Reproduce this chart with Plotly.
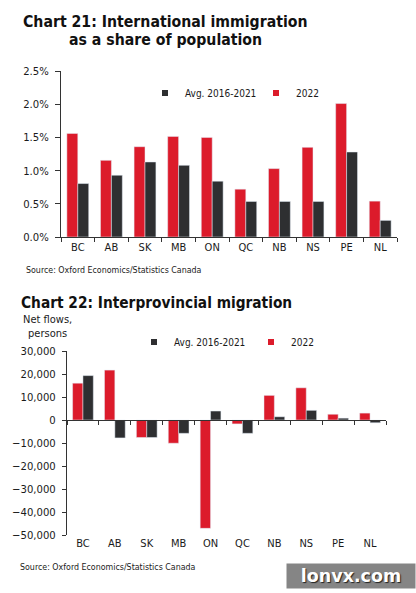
import plotly.graph_objects as go

# ---------------- data ----------------
provinces = ["BC", "AB", "SK", "MB", "ON", "QC", "NB", "NS", "PE", "NL"]
imm_2022 = [1.56, 1.155, 1.36, 1.515, 1.50, 0.72, 1.03, 1.35, 2.01, 0.54]
imm_avg = [0.805, 0.93, 1.13, 1.08, 0.84, 0.535, 0.535, 0.535, 1.28, 0.25]
mig_2022 = [16000, 21700, -7600, -10100, -47100, -1700, 10700, 14000, 2500, 3000]
mig_avg = [19300, -7800, -7600, -5800, 3900, -5800, 1400, 4200, 800, -1200]
name_avg = "Avg. 2016-2021"
name_new = "2022"

# ---------------- style ----------------
W, H = 416, 593
RED = "#dc1b2b"
BLACK = "#2e2f31"
AXIS = "#333333"
TXT = "#1a1a1a"
FONT = "DejaVu Sans Condensed, DejaVu Sans, sans-serif"


def px(x):
    return x / W


def py(y):
    return 1 - y / H


y1_dom = [py(237), py(71)]
y2_dom = [py(535), py(351)]
y2_range = [-50000, 30000]
zero_pos = y2_dom[0] + (0 - y2_range[0]) / (y2_range[1] - y2_range[0]) * (y2_dom[1] - y2_dom[0])

fig = go.Figure()

# chart 21 bars
fig.add_trace(go.Bar(x=provinces, y=imm_2022, marker_color=RED, name=name_new,
                     showlegend=False, xaxis="x", yaxis="y"))
fig.add_trace(go.Bar(x=provinces, y=imm_avg, marker_color=BLACK, name=name_avg,
                     showlegend=False, xaxis="x", yaxis="y"))
# chart 22 bars
fig.add_trace(go.Bar(x=provinces, y=mig_2022, marker_color=RED, name=name_new,
                     showlegend=False, xaxis="x2", yaxis="y2"))
fig.add_trace(go.Bar(x=provinces, y=mig_avg, marker_color=BLACK, name=name_avg,
                     showlegend=False, xaxis="x2", yaxis="y2"))
# zero-line axis carrier for chart 22
fig.add_trace(go.Scatter(x=provinces, y=[None] * len(provinces), mode="markers",
                         showlegend=False, hoverinfo="skip", xaxis="x3", yaxis="y2"))

# legend entries (small square markers)
for leg, xa, ya in [("legend", "x", "y"), ("legend2", "x2", "y2")]:
    fig.add_trace(go.Scatter(x=[None], y=[None], mode="markers", name=name_avg,
                             marker=dict(symbol="square", size=6, color=BLACK),
                             legend=leg, xaxis=xa, yaxis=ya, hoverinfo="skip"))
    fig.add_trace(go.Scatter(x=[None], y=[None], mode="markers", name=name_new,
                             marker=dict(symbol="square", size=6, color=RED),
                             legend=leg, xaxis=xa, yaxis=ya, hoverinfo="skip"))

cat_axis = dict(type="category", categoryorder="array", categoryarray=provinces,
                range=[-0.5, len(provinces) - 0.5], showgrid=False, zeroline=False,
                tickfont=dict(family=FONT, size=11, color=TXT), fixedrange=True)

legend_common = dict(orientation="h", xanchor="left", yanchor="middle",
                     bgcolor="rgba(0,0,0,0)", font=dict(family=FONT, size=10, color=TXT),
                     itemclick=False, itemdoubleclick=False, entrywidthmode="pixels")

fig.update_layout(
    width=W, height=H,
    margin=dict(l=0, r=0, t=0, b=0),
    paper_bgcolor="white", plot_bgcolor="white",
    barmode="group", bargap=0.35, bargroupgap=0,
    font=dict(family=FONT, color=TXT),
    showlegend=True,
    legend=dict(x=px(145), y=py(93), entrywidth=66, **legend_common),
    legend2=dict(x=px(134), y=py(342), entrywidth=72, **legend_common),
    xaxis=dict(domain=[px(61), px(397)], anchor="y", showline=True, linecolor=AXIS,
               linewidth=1, ticks="outside", tickson="boundaries", ticklen=4,
               tickcolor=AXIS, automargin=False, **cat_axis),
    yaxis=dict(domain=y1_dom, anchor="x", range=[0, 2.5], dtick=0.5, tick0=0,
               tickformat=".1f", ticksuffix="%", showline=True, linecolor=AXIS,
               linewidth=1, ticks="outside", ticklen=5, tickcolor=AXIS,
               ticklabelstandoff=4,
               showgrid=False, zeroline=False, automargin=False, fixedrange=True,
               tickfont=dict(family=FONT, size=11.2, color=TXT)),
    xaxis2=dict(domain=[px(67), px(386)], anchor="y2", showline=False, ticks="",
                automargin=False, **cat_axis),
    xaxis3=dict(overlaying="x2", anchor="free", position=zero_pos, showline=True,
                linecolor=AXIS, linewidth=1, ticks="outside", tickson="boundaries",
                ticklen=4, tickcolor=AXIS, showticklabels=False,
                **{k: v for k, v in cat_axis.items() if k != "tickfont"}),
    yaxis2=dict(domain=y2_dom, anchor="x2", range=y2_range, dtick=10000, tick0=0,
                tickformat=",d", showline=True, linecolor=AXIS, linewidth=1,
                ticks="outside", ticklen=4, tickcolor=AXIS, ticklabelstandoff=4,
                showgrid=False, zeroline=False, automargin=False, fixedrange=True,
                tickfont=dict(family=FONT, size=11.2, color=TXT)),
)

annotations = [
    dict(x=px(165.5), y=py(21.5), xanchor="center", yanchor="middle",
         text="<b>Chart 21: International immigration</b>",
         font=dict(family=FONT, size=15.7, color="#111111")),
    dict(x=px(165.5), y=py(39.5), xanchor="center", yanchor="middle",
         text="<b>as a share of population</b>",
         font=dict(family=FONT, size=15.7, color="#111111")),
    dict(x=px(24), y=py(270), xanchor="left", yanchor="middle",
         text="Source: Oxford Economics/Statistics Canada",
         font=dict(family=FONT, size=8.8, color=TXT)),
    dict(x=px(19), y=py(303), xanchor="left", yanchor="middle",
         text="<b>Chart 22: Interprovincial migration</b>",
         font=dict(family=FONT, size=15.3, color="#111111")),
    dict(x=px(47.5), y=py(326), xanchor="center", yanchor="middle", align="center",
         text="Net flows,<br>persons", font=dict(family=FONT, size=11, color=TXT)),
    dict(x=px(18), y=py(567), xanchor="left", yanchor="middle",
         text="Source: Oxford Economics/Statistics Canada",
         font=dict(family=FONT, size=8.8, color=TXT)),
    dict(x=px(351), y=py(575.5), xanchor="center", yanchor="middle",
         text="<b>lonvx.com</b>", bgcolor="#858585", borderpad=2, width=124,
         font=dict(family="DejaVu Sans, sans-serif", size=17.5, color="white",
                   shadow="1px 1px 1px #222222")),
]
for a in annotations:
    a.update(xref="paper", yref="paper", showarrow=False)
fig.update_layout(annotations=annotations)

fig.write_html("out.html", config={"displayModeBar": False},
               post_script="document.body.style.margin='0';document.body.style.overflow='hidden';")
